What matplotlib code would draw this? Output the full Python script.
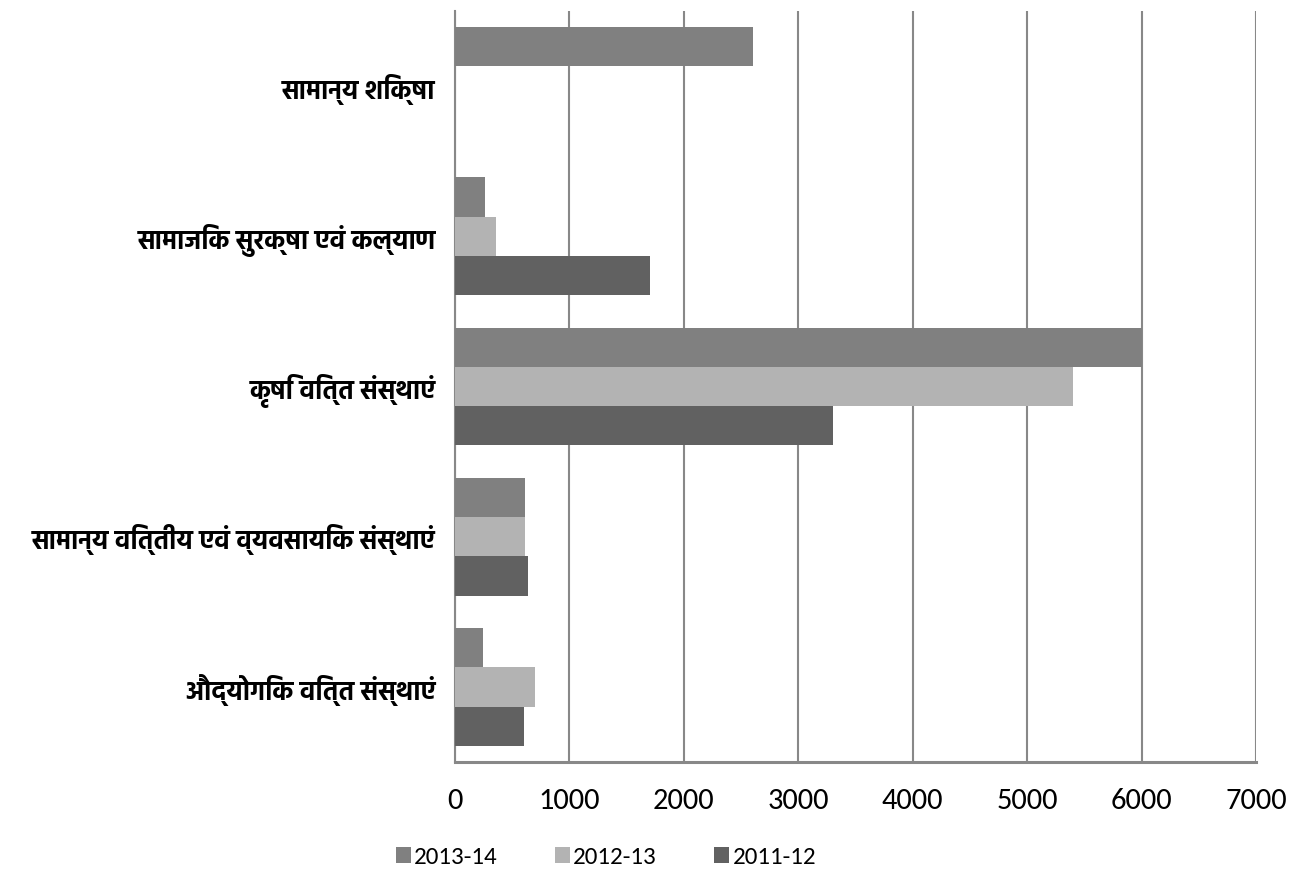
import matplotlib
matplotlib.use("Agg")
import matplotlib.pyplot as plt
import numpy as np
from matplotlib import font_manager

# --- data -------------------------------------------------------------
categories = [
    "सामान्य शिक्षा",
    "सामाजिक सुरक्षा एवं कल्याण",
    "कृषि वित्त संस्थाएं",
    "सामान्य वित्तीय एवं व्यवसायिक संस्थाएं",
    "औद्योगिक वित्त संस्थाएं",
]
series_names = ["2013-14", "2012-13", "2011-12"]
values_2013_14 = [2600, 260, 6000, 615, 245]
values_2012_13 = [0, 360, 5400, 615, 695]
values_2011_12 = [0, 1700, 3300, 635, 600]
x_ticks = [0, 1000, 2000, 3000, 4000, 5000, 6000, 7000]

series_values = [values_2013_14, values_2012_13, values_2011_12]
colors = ["#808080", "#b3b3b3", "#616161"]


def pick_family(candidates, fallback="DejaVu Sans", need_bold=False):
    fonts = font_manager.fontManager.ttflist
    for c in candidates:
        entries = [f for f in fonts if f.name == c]
        if not entries:
            continue
        if need_bold:
            heavy = [f for f in entries
                     if (f.weight if isinstance(f.weight, int) else 400) >= 600
                     or f.weight in ("bold", "semibold", "demibold")]
            if not heavy:
                continue
        return c
    return fallback


deva_font = pick_family(["Hind", "Yantramanav", "Mukta", "Ek Mukta",
                         "Noto Sans Devanagari", "FreeSans"], need_bold=True)
num_font = pick_family(["Carlito", "Liberation Sans Narrow", "Liberation Sans"])

fig = plt.figure(figsize=(13.02, 8.76), dpi=100)
ax = fig.add_axes([455 / 1302, 1 - 762 / 876, (1256 - 455) / 1302, (762 - 11) / 876])

y = np.arange(len(categories))
bar_h = 0.261
offsets = [-bar_h, 0.0, bar_h]
for vals, off, col, name in zip(series_values, offsets, colors, series_names):
    ax.barh(y + off, vals, height=bar_h, color=col, label=name, zorder=3,
            edgecolor="none")

ax.set_xlim(0, 7000)
ax.set_ylim(len(categories) - 0.5, -0.5)
ax.set_xticks(x_ticks)
ax.set_xticklabels([str(t) for t in x_ticks], fontfamily=num_font, fontsize=22)
ax.set_yticks(y)
ax.set_yticklabels(categories, fontfamily=[deva_font, "DejaVu Sans"],
                   fontsize=18.5, fontweight="bold")
ax.tick_params(axis="y", length=0, pad=14)
ax.tick_params(axis="x", length=0, pad=19)

grid_col = "#888888"
ax.grid(axis="x", color=grid_col, linewidth=1.5, zorder=0)
ax.set_axisbelow(True)
for side in ["top", "right"]:
    ax.spines[side].set_visible(False)
ax.spines["left"].set_color(grid_col)
ax.spines["left"].set_linewidth(1.5)
ax.spines["bottom"].set_color(grid_col)
ax.spines["bottom"].set_linewidth(2.2)

fig.legend(loc="center", bbox_to_anchor=(606 / 1302, 1 - 857 / 876), ncol=3,
           frameon=False, handlelength=0.6, handleheight=0.6,
           handletextpad=0.12, columnspacing=2.3,
           prop={"family": num_font, "size": 18})

fig.savefig("out.png", dpi=100, facecolor="white")
